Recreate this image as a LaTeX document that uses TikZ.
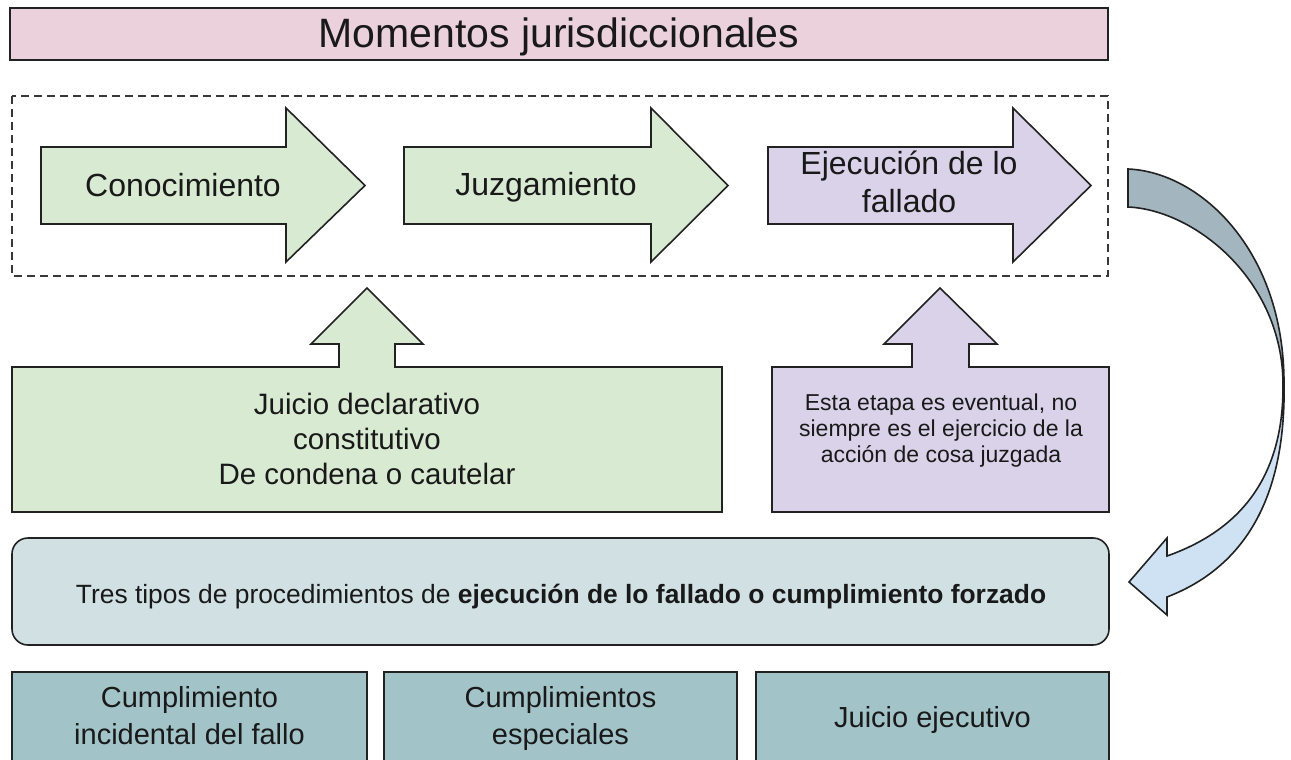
\documentclass[tikz,border=0pt]{standalone}
\usepackage{fontspec}
\setmainfont{Liberation Sans}
\definecolor{titlepink}{HTML}{EAD1DC}
\definecolor{stagegreen}{HTML}{D9EAD3}
\definecolor{stagepurple}{HTML}{D9D2E9}
\definecolor{procblue}{HTML}{D0E0E3}
\definecolor{typeteal}{HTML}{A2C4C9}
\definecolor{bandback}{HTML}{A3B5BF}
\definecolor{bandfront}{HTML}{CFE2F3}
\definecolor{edgec}{HTML}{222222}
\tikzset{
  shapeline/.style={draw=edgec, line width=1.6pt, line join=miter},
  grouplines/.style={draw=edgec!90, line width=1.4pt, dash pattern=on 8pt off 5pt},
  txt/.style={inner sep=0pt, text=black!90, align=center},
}
\begin{document}
\begin{tikzpicture}[x=1pt,y=-1pt]
\useasboundingbox (0,0) rectangle (1291,760);
\clip (0,0) rectangle (1291,760);

% title
\draw[shapeline, fill=titlepink] (10,8) rectangle (1108,60);
\node[txt, anchor=base, font=\fontsize{41}{47}\selectfont] (title) at (559,48) {Momentos jurisdiccionales};

% dashed group
\draw[grouplines] (12,96) rectangle (1108,276);

% stage arrows
\draw[shapeline, fill=stagegreen] (41,147) -- (286,147) -- (286,108) -- (365,185.5) -- (286,262) -- (286,224) -- (41,224) -- cycle;
\node[txt, anchor=base, font=\fontsize{32}{38}\selectfont] (conoc) at (183,196) {Conocimiento};

\draw[shapeline, fill=stagegreen] (404,147) -- (651,147) -- (651,108) -- (728,185.5) -- (651,262) -- (651,224) -- (404,224) -- cycle;
\node[txt, anchor=base, font=\fontsize{32}{38}\selectfont] (juzg) at (546,195) {Juzgamiento};

\draw[shapeline, fill=stagepurple] (768,147) -- (1013,147) -- (1013,108) -- (1091,185.5) -- (1013,262) -- (1013,224) -- (768,224) -- cycle;
\node[txt, anchor=south, font=\fontsize{32}{38}\selectfont] (ejec) at (909,213) {Ejecución de lo\\fallado};

% callout boxes with up arrows
\draw[shapeline, fill=stagegreen] (12,367) -- (339,367) -- (339,344) -- (311,344) -- (367,288) -- (423,344) -- (395,344) -- (395,367) -- (722,367) -- (722,512) -- (12,512) -- cycle;
\node[txt, anchor=south, font=\fontsize{29.5}{35}\selectfont] (juicio) at (367,485) {Juicio declarativo\\constitutivo\\De condena o cautelar};

\draw[shapeline, fill=stagepurple] (772,367) -- (912,367) -- (912,344) -- (884,344) -- (940,288) -- (997,344) -- (969,344) -- (969,367) -- (1109,367) -- (1109,512) -- (772,512) -- cycle;
\node[txt, anchor=south, font=\fontsize{23}{26}\selectfont] (eventual) at (941,467) {Esta etapa es eventual, no\\siempre es el ejercicio de la\\acción de cosa juzgada};

% procedures box
\draw[shapeline, fill=procblue, rounded corners=16pt] (12,538) rectangle (1109,645);
\node[txt, anchor=base, font=\fontsize{26.4}{31}\selectfont] (tres) at (561,603) {Tres tipos de procedimientos de \textbf{ejecución de lo fallado o cumplimiento forzado}};

% three types
\draw[shapeline, fill=typeteal] (12,672) rectangle (367,764);
\node[txt, anchor=south, font=\fontsize{29}{37}\selectfont] (incid) at (189.5,745) {Cumplimiento\\incidental del fallo};
\draw[shapeline, fill=typeteal] (384,672) rectangle (737,764);
\node[txt, anchor=south, font=\fontsize{29}{37}\selectfont] (espec) at (560.5,751) {Cumplimientos\\especiales};
\draw[shapeline, fill=typeteal] (756,672) rectangle (1109,764);
\node[txt, anchor=base, font=\fontsize{29}{37}\selectfont] (ejecutivo) at (932.5,727) {Juicio ejecutivo};

% curved ribbon arrow
\draw[shapeline, fill=bandfront] (1283,383) .. controls (1284,460) and (1255,525) .. (1167,556)
  -- (1167,538) -- (1129,582) -- (1167,615) -- (1167,597)
  .. controls (1250,565) and (1286,490) .. (1284,383) -- cycle;
\draw[shapeline, fill=bandback] (1128,169) .. controls (1200,172) and (1284,250) .. (1284,383)
  -- (1283,383) .. controls (1282,280) and (1195,210) .. (1128,207) -- cycle;
\end{tikzpicture}
\end{document}
